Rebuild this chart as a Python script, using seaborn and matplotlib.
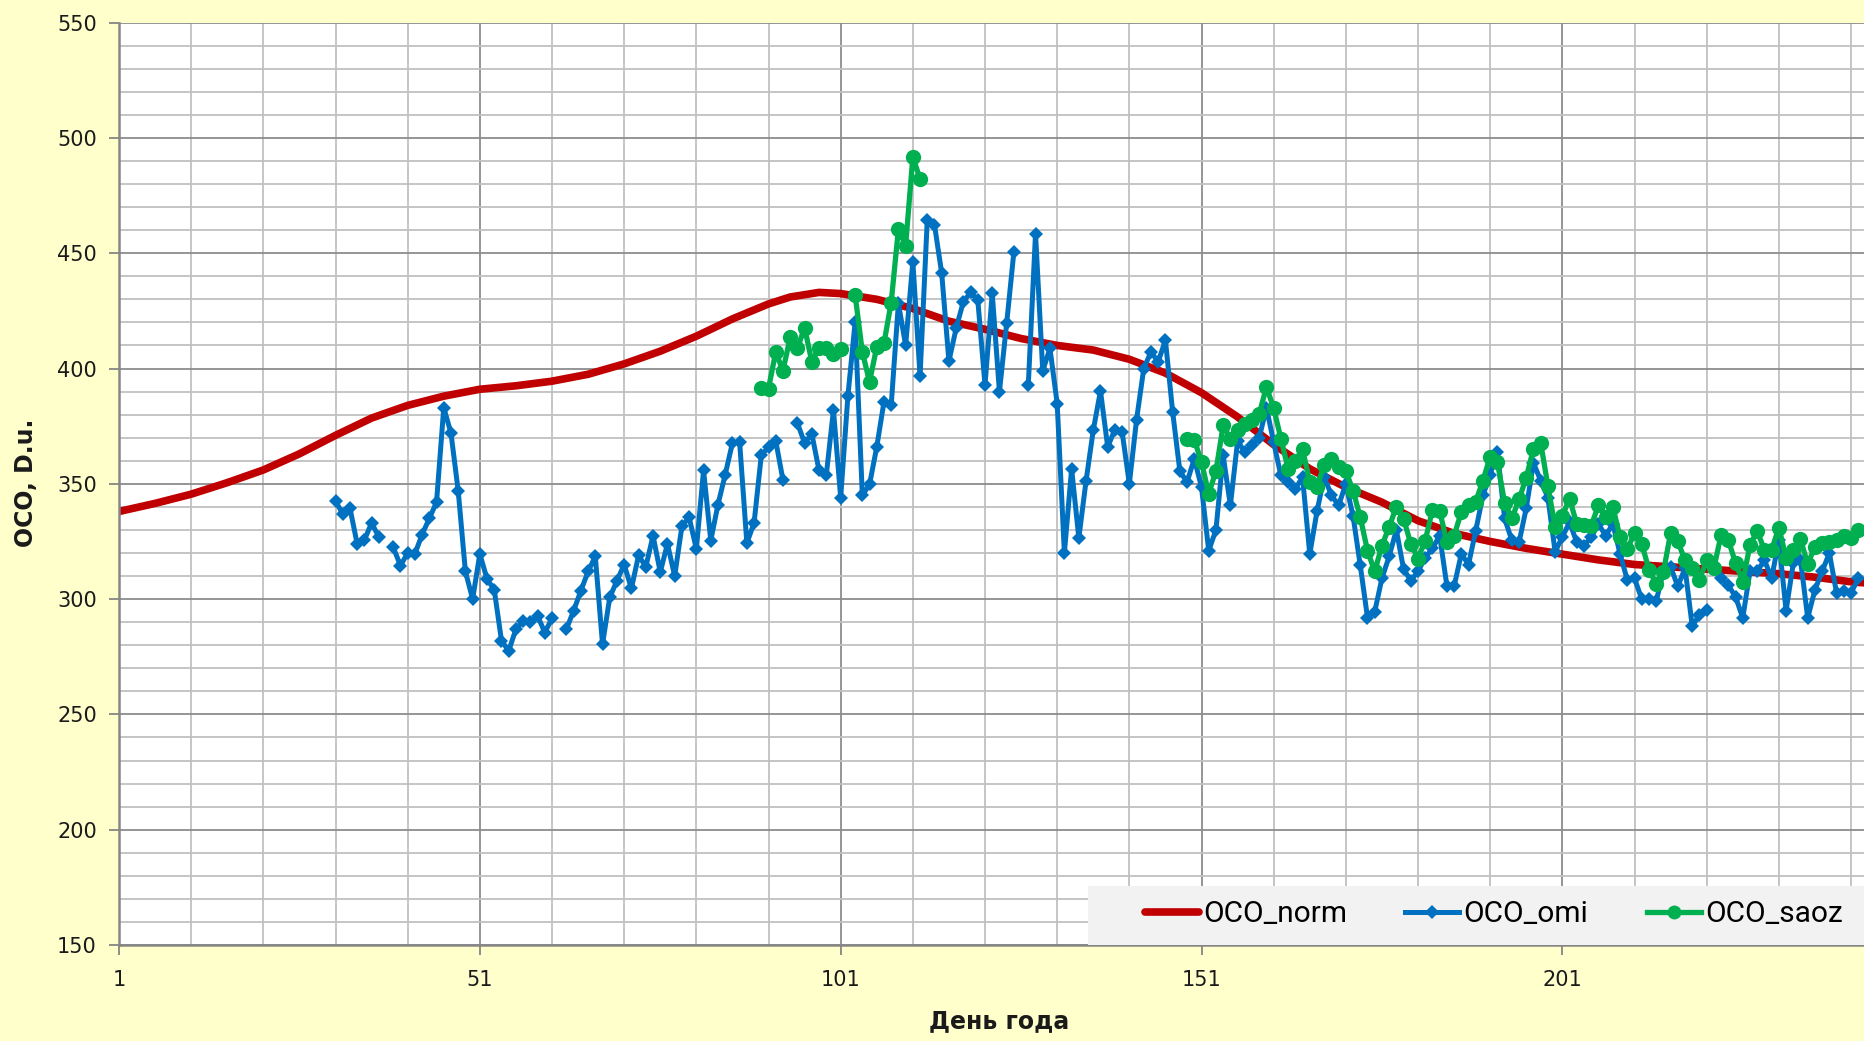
import numpy as np
import pandas as pd
import matplotlib
matplotlib.use("Agg")
import matplotlib.pyplot as plt
from matplotlib.lines import Line2D
from matplotlib.patches import Rectangle
import seaborn as sns

nan = np.nan

# OCO_norm (climatology), read every 5 days
norm_days = [1, 6, 11, 16, 21, 26, 31, 36, 41, 46,
             51, 56, 61, 66, 71, 76, 81, 86, 91, 94, 98,
             101, 106, 111, 116, 121, 126, 131, 136, 141, 146,
             151, 156, 161, 166, 171, 176, 181, 186, 191, 196,
             201, 206, 211, 216, 221, 226, 231, 236, 241, 243]
norm_vals = [338, 341.5, 345.5, 350.5, 356, 363, 371, 378.5, 384, 388,
             391, 392.5, 394.5, 397.5, 402, 407.5, 414, 421.5, 428, 431, 433,
             432.5, 430, 426, 420.5, 417, 413, 410, 408, 404, 398,
             389.5, 379, 367, 356.5, 348.5, 342, 334, 328.5, 325, 322,
             319.5, 317, 315, 314, 313, 312, 311, 309.5, 307.5, 307]

# OCO_omi, days 31..242 (nan = no data)
omi_days = list(range(31, 243))
omi_vals = [342.5, 337, 339.5, 324, 325.6, 333, 327, nan, 322.5, 314.5,
            320, 319.6, 328, 335, 342, 383, 372, 347, 312, 300,
            319.6, 308.7, 304, 282, 277.5, 287, 290.6, 290, 292.8, 285.5,
            291.7, nan, 287, 295, 303.6, 312, 318.5, 280.4, 300.7, 308,
            315, 304.6, 319, 314, 327.5, 311.7, 324, 310, 331.6, 335.5,
            321.7, 355.8, 325.4, 341, 354, 367.7, 368, 324.3, 333, 362.3,
            366, 368.7, 351.7, nan, 376.4, 367.7, 371.7, 355.8, 353.6, 382,
            344, 388, 420, 345, 349.7, 366, 385.5, 384, 428.3, 410,
            446.4, 396.7, 464.5, 462.3, 441.3, 403.2, 417.4, 429, 433, 429.7,
            392.8, 432.6, 389.9, 419.6, 450.5, nan, 393, 458.5, 399, 408.7,
            384.8, 320, 356.5, 326.5, 351.2, 373.2, 390.3, 366, 373.5, 372.5,
            350, 377.8, 400, 407.2, 402.9, 412.3, 381.2, 355.5, 350.7, 360.9,
            348.5, 321, 330, 362.3, 340.6, 368.5, 363.8, 367, 370, 383,
            368, 353.6, 350.7, 347.8, 352.9, 319.5, 338, 353, 345, 340.6,
            350, 336, 314.6, 292, 294.5, 309, 318.5, 330, 313, 308,
            312, 318, 322, 327.5, 305.8, 305.5, 319.6, 315, 329.7, 345,
            354, 364, 335, 325.5, 324.6, 339.5, 359, 351.4, 344, 320.5,
            327, 333.3, 324.6, 323.2, 326.8, 332.6, 327.5, 332.6, 319.6, 308.3,
            309, 300, 300, 299, 312, 314, 305.5, 313.4, 288.2, 293.2,
            295.4, nan, 309, 306, 301, 291.8, 312, 312, 317, 309,
            325.6, 295, 315.5, 317, 291.8, 304, 312, 320, 302.6, 303.3,
            302.6, 309]

# OCO_saoz, days 90..112 and 149..242
saoz_days = list(range(90, 113)) + list(range(149, 243))
saoz_vals = [391.7, 391.3, 407.2, 399, 413.5, 408.7, 417.7, 403, 408.7, 408.7,
             406.2, 408.3, nan, 432, 407.2, 394.2, 409.4, 410.9, 428.6, 460.4,
             453.2, 491.7, 482.2,
             369.6, 369.1, 359.4, 345.7, 355.5, 375.4, 369.6, 373.2, 375.8, 377.5,
             380.4, 392, 382.8, 369.6, 356.5, 360, 365, 350.7, 348.6, 358.3,
             360.8, 357.2, 355.6, 347, 335.5, 321, 312, 323.2, 331.3, 340,
             334.8, 324, 317.6, 325.4, 338.6, 338.4, 324.6, 327.5, 337.7, 340.6,
             342.3, 351.4, 361.8, 359.4, 341.8, 335, 343.2, 352.7, 365.2, 367.8,
             349, 331.2, 336.2, 343.5, 332.6, 332.3, 331.9, 340.6, 335.5, 340,
             326.8, 321.7, 328.5, 324, 312.8, 306.7, 311.6, 328.7, 325, 316.8,
             313.5, 308.4, 316.8, 313.5, 327.8, 325.6, 315.6, 307.6, 323.4, 329.6,
             321.3, 321.3, 331, 318, 321.3, 325.9, 315.2, 322.7, 324.4, 324.9,
             325.6, 327.3, 326.3, 329.9]

labels = ["OCO_norm", "OCO_omi", "OCO_saoz"]
red, blue, green = "#C00000", "#0070C0", "#00B050"


def segments(days, vals, step=1):
    d = pd.DataFrame({"day": days, "val": vals})
    # new run after a missing value or a jump in days, so gaps stay open
    brk = d["val"].isna() | (d["day"].diff() > step)
    d["seg"] = brk.cumsum()
    return d.dropna()


norm_df = segments(norm_days, norm_vals, step=10)
omi_df = segments(omi_days, omi_vals)
saoz_df = segments(saoz_days, saoz_vals)

W, H = 1864, 1041
fig = plt.figure(figsize=(W / 100, H / 100), dpi=100, facecolor="#FFFFCC")
ax = fig.add_axes([119 / W, 96 / H, 1745 / W, 922.4 / H])
ax.set_facecolor("white")

sns.lineplot(data=norm_df, x="day", y="val", units="seg", estimator=None,
             color=red, lw=5.5, solid_capstyle="round", solid_joinstyle="round",
             ax=ax, legend=False)
sns.lineplot(data=omi_df, x="day", y="val", units="seg", estimator=None,
             color=blue, lw=3.6, marker="D", ms=7.5, mew=0, ax=ax, legend=False)
sns.lineplot(data=saoz_df, x="day", y="val", units="seg", estimator=None,
             color=green, lw=3.8, marker="o", ms=11, mew=0, ax=ax, legend=False)

ax.set_xlim(1, 242.8)
ax.set_ylim(150, 550)
ax.set_xticks([1, 51, 101, 151, 201])
ax.set_xticks(list(range(11, 243, 10)), minor=True)
ax.set_yticks(list(range(150, 551, 50)))
ax.set_yticks(list(range(160, 550, 10)), minor=True)
ax.set_xlabel("")
ax.set_ylabel("")

ax.set_axisbelow(True)
ax.grid(which="major", color="#8C8C8C", lw=1.3)
ax.grid(which="minor", color="#C0C0C0", lw=1.3)
for s in ["top", "right"]:
    ax.spines[s].set_visible(False)
for s in ["left", "bottom"]:
    ax.spines[s].set_color("#868686")
    ax.spines[s].set_linewidth(1.8)
ax.tick_params(which="major", length=7, width=1.3, color="#868686",
               labelsize=15, labelcolor="#1a1a1a")
ax.tick_params(axis="x", which="major", pad=11)
ax.tick_params(axis="y", which="major", pad=9)
ax.tick_params(which="minor", length=0)

fig.text(26 / W, 1 - 483 / H, "OCO, D.u.", rotation=90, ha="center", va="center",
         fontsize=17, fontweight="bold", color="#1a1a1a")
fig.text(999 / W, 1 - 1021 / H, "День года", ha="center", va="center",
         fontsize=17, fontweight="bold", color="#1a1a1a")

# legend area
ax.add_patch(Rectangle(((1088 - 119) / 1745, 0), 1, 59 / 922.4, transform=ax.transAxes,
                       facecolor="#F2F2F2", edgecolor="none", zorder=5, clip_on=False))
handles = [Line2D([], [], color=red, lw=5.5, solid_capstyle="round"),
           Line2D([], [], color=blue, lw=3.6, marker="D", ms=7.5, mew=0),
           Line2D([], [], color=green, lw=3.8, marker="o", ms=10, mew=0)]
leg = ax.legend(handles, labels, loc="center left",
                bbox_to_anchor=((1145 - 119) / 1745, 31 / 922.4), ncol=3,
                frameon=False, borderaxespad=0, borderpad=0,
                prop={"family": "Roboto", "size": 21.5},
                handlelength=1.8, handletextpad=0.15, columnspacing=1.95)
leg.set_zorder(6)

fig.savefig("out.png", dpi=100, facecolor=fig.get_facecolor())
